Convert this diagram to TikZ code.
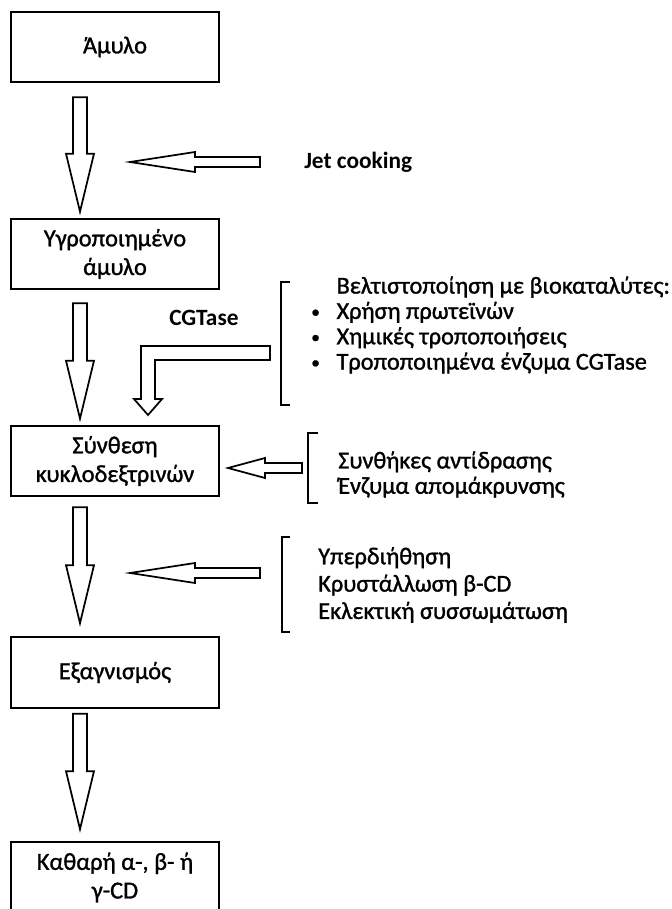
\documentclass[tikz,border=0pt]{standalone}
\usepackage{fontspec}
\setmainfont{Carlito}
\newfontfamily\boxfont{Carlito}[FakeBold=1.2]
\usetikzlibrary{calc}

\begin{document}
\begin{tikzpicture}
    [x=0.75pt, y=-0.75pt, every node/.style={font={\boxfont\fontsize{18.3}{21.5}\selectfont}},
    stage/.style={draw, line width=1.5pt, minimum width=156pt, minimum height=53pt,
      align=center, inner sep=0pt},
    sidetxt/.style={anchor=west, align=left, inner sep=0pt,
      font={\boxfont\fontsize{18.2}{19}\selectfont}},
    boldtxt/.style={anchor=west, inner sep=0pt,
      font={\fontsize{17.5}{21}\selectfont\bfseries}},
    bracket/.style={line width=1.5pt},
    % hollow block arrows
    fatdown/.style 2 args={draw, line width=1.3pt, to path={
      let \p1=(\tikztostart), \p2=(\tikztotarget) in
      (\x1-5.25pt,\y1-#1) -- (\x1+5.25pt,\y1-#1) -- (\x1+5.25pt,\y2+#2+43.5pt)
      -- (\x1+10.5pt,\y2+#2+43.5pt) -- (\x1,\y2+#2) -- (\x1-10.5pt,\y2+#2+43.5pt)
      -- (\x1-5.25pt,\y2+#2+43.5pt) -- cycle}},
    fatleft/.style={draw, line width=1.3pt, to path={
      let \p1=(\tikztostart), \p2=(\tikztotarget) in
      (\x1,\y1-3.75pt) -- (\x2+#1,\y1-3.75pt) -- (\x2+#1,\y1-7.5pt) -- (\x2,\y1)
      -- (\x2+#1,\y1+7.5pt) -- (\x2+#1,\y1+3.75pt) -- (\x1,\y1+3.75pt) -- cycle}},
    elbow/.style={draw, line width=1.3pt, to path={
      let \p1=(\tikztostart), \p2=(\tikztotarget) in
      (\x1,\y1+5.25pt) -- (\x2-5.25pt,\y1+5.25pt) -- (\x2-5.25pt,\y2+12pt)
      -- (\x2-10.5pt,\y2+12pt) -- (\x2,\y2) -- (\x2+10.5pt,\y2+12pt)
      -- (\x2+5.25pt,\y2+12pt) -- (\x2+5.25pt,\y1-5.25pt) -- (\x1,\y1-5.25pt) -- cycle}}]

    \def\dotb{\makebox[19pt][l]{\raisebox{1pt}{\fontsize{13}{13}\selectfont\textbullet}}}

    \clip (0,0) rectangle (671,909);

    % Main column
    \node[stage] (amylo) at (115,47) {Άμυλο};
    \node[stage] (ygro) at (115,254) {Υγροποιημένο\\άμυλο};
    \node[stage] (synth) at (115,461) {Σύνθεση\\κυκλοδεξτρινών};
    \node[stage] (katharsi) at (115,672.5) {Εξαγνισμός};
    \node[stage] (cd) at (115,877.5) {Καθαρή α-, β- ή\\γ-CD};

    \coordinate (col) at (80,0);
    \draw[fatdown={10.5pt}{4.5pt}] (amylo.south -| col) to (ygro.north -| col);
    \draw[fatdown={9.75pt}{4.5pt}] (ygro.south -| col) to (synth.north -| col);
    \draw[fatdown={7.5pt}{9.75pt}] (synth.south -| col) to (katharsi.north -| col);
    \draw[fatdown={3.75pt}{9pt}] (katharsi.south -| col) to (cd.north -| col);

    % Jet cooking
    \node[boldtxt] (jet) at (304,162) {Jet cooking};
    \coordinate (jetend) at (260,162);
    \coordinate (jettip) at (130,162);
    \draw[fatleft=48.75pt] (jetend) to (jettip);

    % Biocatalysts
    \node[boldtxt] (cgtase) at (169,318) {CGTase};
    \node[sidetxt] (bio) at (311,325)
      {\hspace*{19pt}Βελτιστοποίηση με βιοκαταλύτες:\\
       \dotb Χρήση πρωτεϊνών\\
       \dotb Χημικές τροποποιήσεις\\
       \dotb Τροποποιημένα ένζυμα CGTase};
    \draw[bracket] (290,282) -- (281,282) -- (281,405) -- (290,405);
    \coordinate (bioend) at (270,353);
    \coordinate (biotip) at (148,415);
    \draw[elbow] (bioend) to (biotip);

    % Reaction conditions
    \node[sidetxt] (cond) at (338,474.5)
      {Συνθήκες αντίδρασης\\Ένζυμα απομάκρυνσης};
    \draw[bracket] (318,433) -- (308,433) -- (308,503) -- (318,503);
    \coordinate (condend) at (302,468);
    \coordinate (condtip) at (228,468);
    \draw[fatleft=27.75pt] (condend) to (condtip);

    % Separation
    \node[sidetxt, font={\boxfont\fontsize{18.2}{20.5}\selectfont}] (sep) at (318,585)
      {Υπερδιήθηση\\Κρυστάλλωση β-CD\\Εκλεκτική συσσωμάτωση};
    \draw[bracket] (290,537) -- (282,537) -- (282,632) -- (290,632);
    \coordinate (sepend) at (260,573);
    \coordinate (septip) at (130,573);
    \draw[fatleft=48.75pt] (sepend) to (septip);

\end{tikzpicture}
\end{document}
